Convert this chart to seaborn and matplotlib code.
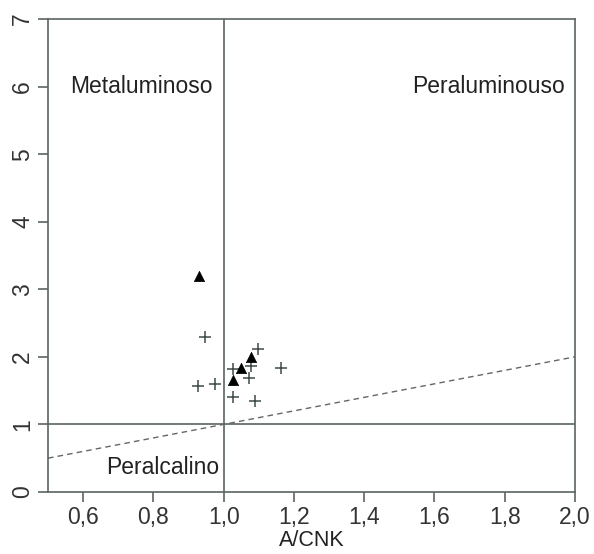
import matplotlib
matplotlib.use("Agg")
import matplotlib.pyplot as plt
import seaborn as sns
import pandas as pd
import numpy as np

# Data
tri_x = [0.930, 1.078, 1.048, 1.027]
tri_y = [3.20, 2.00, 1.83, 1.65]
plus_x = [0.947, 1.097, 1.027, 1.078, 1.162, 1.073, 0.928, 0.975, 1.027, 1.090]
plus_y = [2.29, 2.11, 1.82, 1.87, 1.83, 1.68, 1.57, 1.60, 1.41, 1.35]
x_ticks = [0.6, 0.8, 1.0, 1.2, 1.4, 1.6, 1.8, 2.0]
x_ticklabels = ["0,6", "0,8", "1,0", "1,2", "1,4", "1,6", "1,8", "2,0"]
y_ticks = [0, 1, 2, 3, 4, 5, 6, 7]
line_x = [0.5, 2.0]
line_y = [0.5, 2.0]

sns.set_theme(style="white")
plt.rcParams['font.family'] = ['Liberation Sans', 'DejaVu Sans']

frame = "#5b6562"
fig = plt.figure(figsize=(5.94, 5.54), dpi=100)
ax = fig.add_axes([0.0808, 0.112, 0.968 - 0.0808, 0.9657 - 0.112])

df_tri = pd.DataFrame({"x": tri_x, "y": tri_y})
df_plus = pd.DataFrame({"x": plus_x, "y": plus_y})

ax.axhline(1, color=frame, lw=1.2, zorder=1)
ax.axvline(1, color=frame, lw=1.2, zorder=1)
sns.lineplot(x=line_x, y=line_y, ax=ax, color="#666666", lw=1.0, linestyle=(0, (4, 3)), zorder=1)

sns.scatterplot(data=df_plus, x="x", y="y", marker="+", s=70, color="#3d4a46",
                linewidth=1.1, ax=ax, zorder=3)
sns.scatterplot(data=df_tri, x="x", y="y", marker="^", s=55, color="black",
                edgecolor="black", linewidth=0.5, ax=ax, zorder=4)

ax.set_xlim(0.5, 2.0)
ax.set_ylim(0, 7)
ax.set_xticks(x_ticks)
ax.set_xticklabels(x_ticklabels)
ax.set_yticks(y_ticks)
ax.set_yticklabels([str(v) for v in y_ticks], rotation=90, va="center")
ax.set_xlabel("A/CNK", fontsize=15.5, color="#222222", labelpad=1)
ax.set_ylabel("")

ax.tick_params(axis="both", direction="out", length=7, width=1.2, color=frame,
               labelsize=16.5, labelcolor="#333333", bottom=True, left=True, pad=3)
for s in ax.spines.values():
    s.set_color(frame)
    s.set_linewidth(1.2)

tc = "#222222"
ax.text(0.563, 6.0, "Metaluminoso", fontsize=16.5, color=tc, ha="left", va="center")
ax.text(1.972, 6.0, "Peraluminouso", fontsize=16.5, color=tc, ha="right", va="center")
ax.text(0.665, 0.36, "Peralcalino", fontsize=16.5, color=tc, ha="left", va="center")

fig.savefig("out.png", dpi=100)
